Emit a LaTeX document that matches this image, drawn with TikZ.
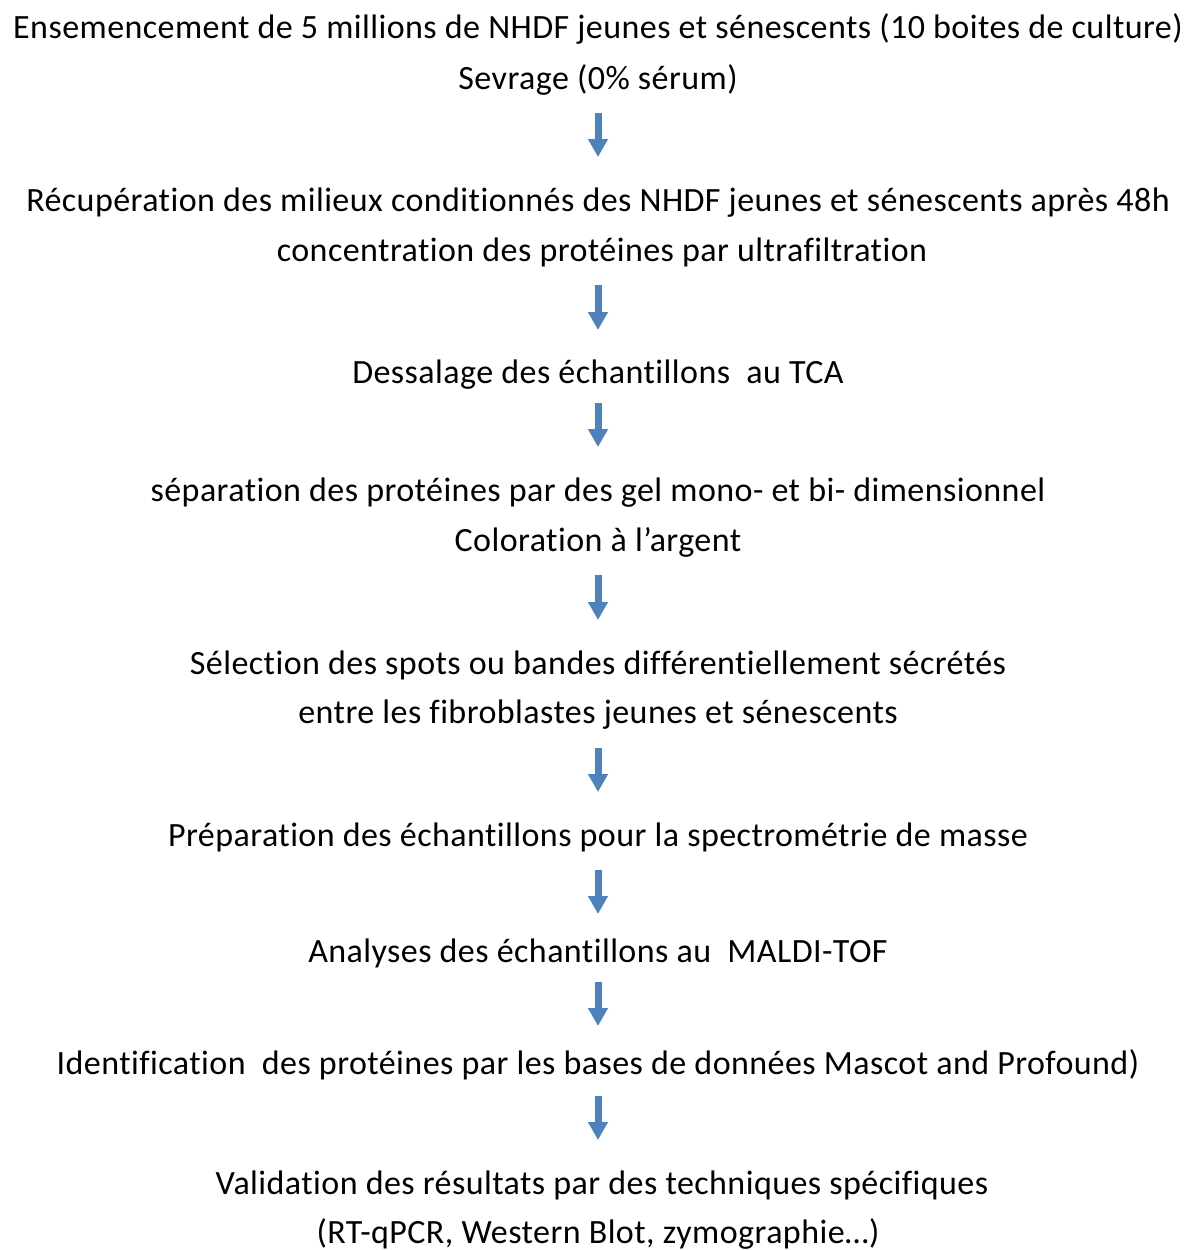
\documentclass[tikz,border=0pt]{standalone}
\usepackage{fontspec}
\setmainfont[Ligatures=NoCommon,LetterSpace=1.3]{Carlito}
\usetikzlibrary{arrows.meta}
\definecolor{flowblue}{HTML}{4F81BD}
\tikzset{
  txt/.style={anchor=base, inner sep=0pt, font=\fontsize{34}{40}\selectfont},
  downarrow/.style={draw=flowblue, line width=7pt,
    -{Triangle[width=19pt,length=18pt]}}
}
\begin{document}
\begin{tikzpicture}[x=1pt,y=-1pt]
\useasboundingbox (0,0) rectangle (1198,1250);
% text lines (baselines)
\node[txt] (l1)  at (598,38)   {Ensemencement de 5 millions de NHDF jeunes et sénescents (10 boites de culture)};
\node[txt] (l2)  at (598,89)   {Sevrage (0\% sérum)};
\node[txt] (l3)  at (598,211)  {Récupération des milieux conditionnés des NHDF jeunes et sénescents après 48h};
\node[txt] (l4)  at (602,261)  {concentration des protéines par ultrafiltration};
\node[txt] (l5)  at (598,383)  {Dessalage des échantillons\ \ au TCA};
\node[txt] (l6)  at (598,501)  {séparation des protéines par des gel mono- et bi- dimensionnel};
\node[txt] (l7)  at (598,551)  {Coloration à l’argent};
\node[txt] (l8)  at (598,674)  {Sélection des spots ou bandes différentiellement sécrétés};
\node[txt] (l9)  at (598,723)  {entre les fibroblastes jeunes et sénescents};
\node[txt] (l10) at (598,846)  {Préparation des échantillons pour la spectrométrie de masse};
\node[txt] (l11) at (598,962)  {Analyses des échantillons au\ \ MALDI-TOF};
\node[txt] (l12) at (598,1074) {Identification\ \ des protéines par les bases de données Mascot and Profound)};
\node[txt] (l13) at (602,1194) {Validation des résultats par des techniques spécifiques};
\node[txt] (l14) at (598,1243) {(RT-qPCR, Western Blot, zymographie…)};
% arrow end points
\coordinate (a1s) at (598,113);  \coordinate (a1e) at (598,157);
\coordinate (a2s) at (598,285);  \coordinate (a2e) at (598,330);
\coordinate (a3s) at (598,403);  \coordinate (a3e) at (598,447);
\coordinate (a4s) at (598,575);  \coordinate (a4e) at (598,620);
\coordinate (a5s) at (598,748);  \coordinate (a5e) at (598,792);
\coordinate (a6s) at (598,870);  \coordinate (a6e) at (598,914);
\coordinate (a7s) at (598,982);  \coordinate (a7e) at (598,1026);
\coordinate (a8s) at (598,1096); \coordinate (a8e) at (598,1140);
\foreach \i in {1,...,8}{
  \draw[downarrow] (a\i s) -- (a\i e);
}
\end{tikzpicture}
\end{document}
